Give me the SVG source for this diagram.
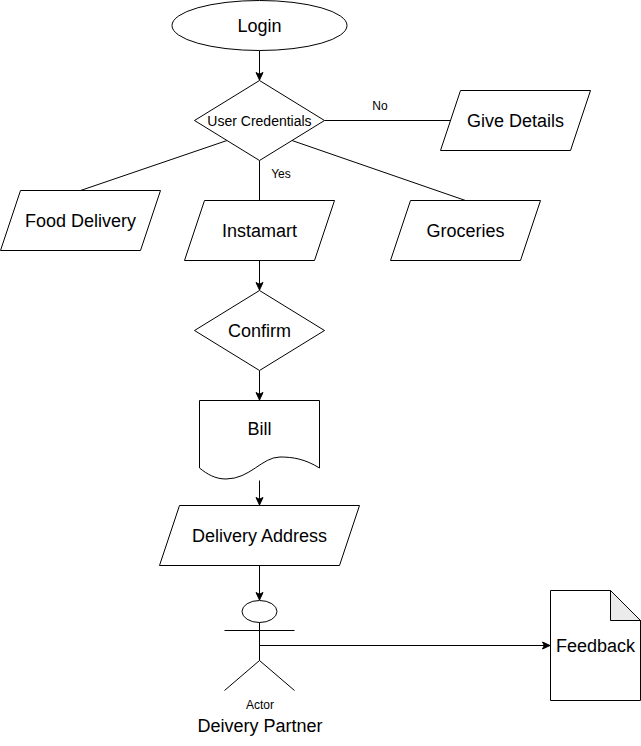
<svg xmlns="http://www.w3.org/2000/svg" width="641" height="746" viewBox="0 0 641 746">
  <style>
    .s { fill: #ffffff; stroke: #000000; stroke-width: 1; }
    .c { fill: none; stroke: #000000; stroke-width: 1; }
    text { font-family: "Liberation Sans", Arial, sans-serif; fill: #000000; text-anchor: middle; }
    .l { font-size: 18px; }
    .m { font-size: 14px; }
    .t { font-size: 12px; }
  </style>
  <defs>
    <marker id="arrow" markerUnits="userSpaceOnUse" markerWidth="9" markerHeight="10" refX="8" refY="4.5" orient="auto">
      <path d="M0.500 1 L8 4.500 L0.500 8 L2.300 4.500 Z" fill="#000" stroke="#000" stroke-width="1"/>
    </marker>
  </defs>
  <rect width="641" height="746" fill="#ffffff"/>
  <g id="connectors">
    <path class="c" d="M259.500 50.500 V80" marker-end="url(#arrow)"/>
    <path class="c" d="M324.500 120.500 H451"/>
    <path class="c" d="M227 140.500 L80.500 190.500"/>
    <path class="c" d="M292 140.500 L465.500 200.500"/>
    <path class="c" d="M259.500 160.500 V200.500"/>
    <path class="c" d="M259.500 260.500 V290" marker-end="url(#arrow)"/>
    <path class="c" d="M259.500 370.500 V400" marker-end="url(#arrow)"/>
    <path class="c" d="M259.500 480.500 V505" marker-end="url(#arrow)"/>
    <path class="c" d="M259.500 565.500 V600" marker-end="url(#arrow)"/>
    <path class="c" d="M259.500 645.500 H550" marker-end="url(#arrow)"/>
    <text class="t" x="380" y="110">No</text>
    <text class="t" x="281" y="177.500">Yes</text>
  </g>
  <g id="login"><ellipse class="s" cx="259.500" cy="25.500" rx="87.500" ry="25"/><text class="l" x="259.500" y="32">Login</text></g>
  <g id="user-credentials"><path class="s" d="M259.500 80.500 L324.500 120.500 L259.500 160.500 L194.500 120.500 Z"/><text class="m" x="259.500" y="125.500">User Credentials</text></g>
  <g id="give-details"><path class="s" d="M460.500 90.500 H590.500 L570.500 150.500 H440.500 Z"/><text class="l" x="515.500" y="126.500">Give Details</text></g>
  <g id="food-delivery"><path class="s" d="M20.500 190.500 H160.500 L140.500 250.500 H0.500 Z"/><text class="l" x="80.500" y="226.500">Food Delivery</text></g>
  <g id="instamart"><path class="s" d="M204.500 200.500 H334.500 L314.500 260.500 H184.500 Z"/><text class="l" x="259.500" y="236.500">Instamart</text></g>
  <g id="groceries"><path class="s" d="M410.500 200.500 H540.500 L520.500 260.500 H390.500 Z"/><text class="l" x="465.500" y="236.500">Groceries</text></g>
  <g id="confirm"><path class="s" d="M259.500 290.500 L324.500 330.500 L259.500 370.500 L194.500 330.500 Z"/><text class="l" x="259.500" y="336.500">Confirm</text></g>
  <g id="bill"><path class="s" d="M199.500 400.500 H319.500 V468 C305 459 293 457 280 457 C262 457 250 479 226 479 C215 479 207 474 199.500 468 Z"/><text class="l" x="259.500" y="434.500">Bill</text></g>
  <g id="delivery-address"><path class="s" d="M179.500 505.500 H359.500 L339.500 565.500 H159.500 Z"/><text class="l" x="259.500" y="541.500">Delivery Address</text></g>
  <g id="actor">
    <ellipse class="s" cx="259.500" cy="611.500" rx="17.500" ry="11"/>
    <path class="c" d="M259.500 622.500 V660.500 M224.500 630.500 H294.500 M224.500 690.500 L259.500 660.500 L294.500 690.500"/>
    <text class="t" x="260" y="709">Actor</text>
    <text class="l" x="260" y="731.500">Deivery Partner</text>
  </g>
  <g id="feedback">
    <path class="s" d="M550.500 590.500 H610.500 L640.500 620.500 V700.500 H550.500 Z"/>
    <path d="M610.500 590.500 V620.500 H640.500 Z" fill="#ebebeb" stroke="#000" stroke-width="1"/>
    <text class="l" x="595.500" y="651.500">Feedback</text>
  </g>
</svg>
